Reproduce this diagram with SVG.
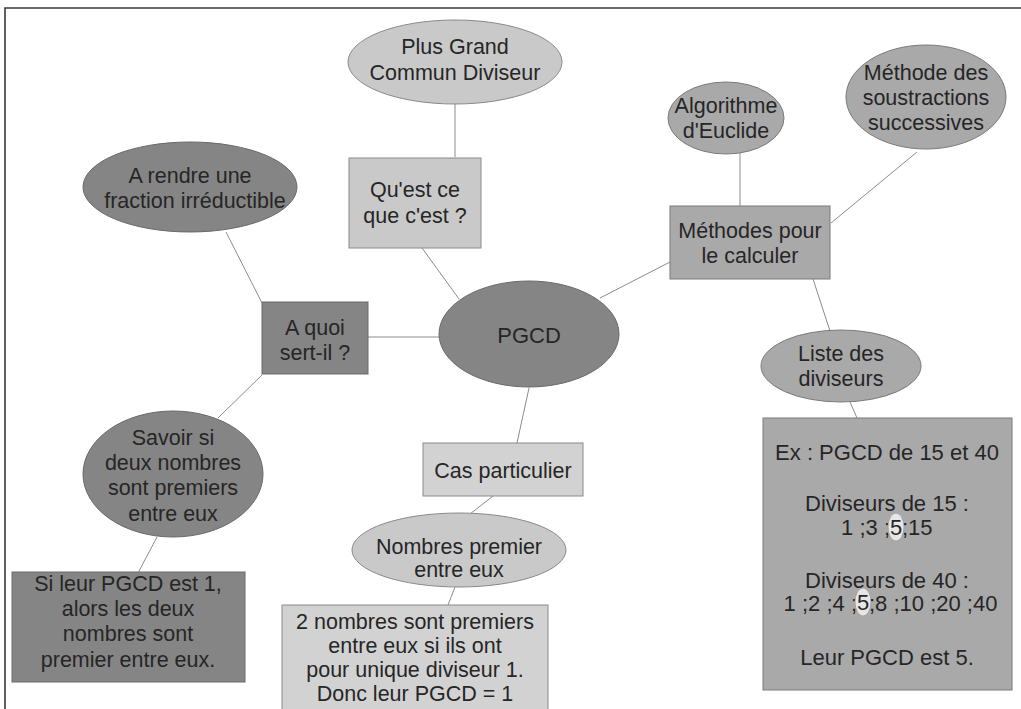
<svg xmlns="http://www.w3.org/2000/svg" width="1021" height="709" viewBox="0 0 1021 709">
  <style>
    text { font-family: "Liberation Sans", Arial, sans-serif; font-size: 21.5px; fill: #262626; text-anchor: middle; }
    .big text { font-size: 22px; }
    .big text.l { text-anchor: end; }
    .big text.r { text-anchor: start; }
    .dark { fill: #858585; stroke: #6a6a6a; stroke-width: 1; }
    .mid { fill: #a9a9a9; stroke: #7a7a7a; stroke-width: 1; }
    .light { fill: #c9c9c9; stroke: #8a8a8a; stroke-width: 1; }
    .pale { fill: #d2d2d2; stroke: #8a8a8a; stroke-width: 1; }
    .mark { fill: #e6e6e6; stroke: #9a9a9a; stroke-width: 0.8; }
    #connectors line { stroke: #8c8c8c; stroke-width: 1; }
    .frame { stroke: #3a3a3a; stroke-width: 1.6; fill: none; }
  </style>

  <rect width="1021" height="709" fill="#ffffff"/>
  <!-- page frame: top and left edges -->
  <path class="frame" d="M5,709 V8 H1021"/>

  <g id="connectors">
    <line x1="455" y1="104" x2="455" y2="157"/>
    <line x1="422" y1="248" x2="459" y2="299"/>
    <line x1="226" y1="232" x2="262" y2="303"/>
    <line x1="368" y1="337" x2="440" y2="337"/>
    <line x1="262" y1="375" x2="218" y2="418"/>
    <line x1="157" y1="537" x2="138" y2="573"/>
    <line x1="529" y1="388" x2="517" y2="443"/>
    <line x1="493" y1="496" x2="470" y2="514"/>
    <line x1="455" y1="587" x2="448" y2="605"/>
    <line x1="600" y1="298" x2="670" y2="262"/>
    <line x1="740" y1="153" x2="740" y2="206"/>
    <line x1="917" y1="152" x2="831" y2="223"/>
    <line x1="813" y1="279" x2="830" y2="331"/>
    <line x1="850" y1="402" x2="857" y2="418"/>
  </g>

  <g id="pgcd">
    <ellipse class="dark" cx="529" cy="334" rx="90" ry="53"/>
    <text x="529" y="343" style="font-size:22px">PGCD</text>
  </g>

  <g id="plus-grand">
    <ellipse class="light" cx="455" cy="62" rx="107" ry="42"/>
    <text x="455" y="54">Plus Grand</text>
    <text x="455" y="80">Commun Diviseur</text>
  </g>

  <g id="quest-ce">
    <rect class="light" x="349" y="158" width="132" height="90"/>
    <text x="415" y="197">Qu'est ce</text>
    <text x="415" y="223">que c'est ?</text>
  </g>

  <g id="a-rendre">
    <ellipse class="dark" cx="190" cy="187" rx="107" ry="45"/>
    <text x="190" y="183">A rendre une</text>
    <text x="195" y="208">fraction irréductible</text>
  </g>

  <g id="a-quoi">
    <rect class="dark" x="262" y="302" width="106" height="72"/>
    <text x="315" y="335">A quoi</text>
    <text x="315" y="360">sert-il ?</text>
  </g>

  <g id="savoir">
    <ellipse class="dark" cx="173" cy="474" rx="90" ry="63"/>
    <text x="173" y="445">Savoir si</text>
    <text x="173" y="470">deux nombres</text>
    <text x="173" y="495">sont premiers</text>
    <text x="173" y="521">entre eux</text>
  </g>

  <g id="si-leur">
    <rect class="dark" x="12" y="572" width="233" height="110"/>
    <text x="128" y="591">Si leur PGCD est 1,</text>
    <text x="128" y="616">alors les deux</text>
    <text x="128" y="641">nombres sont</text>
    <text x="128" y="667">premier entre eux.</text>
  </g>

  <g id="cas-particulier">
    <rect class="pale" x="423" y="443" width="160" height="53"/>
    <text x="503" y="478">Cas particulier</text>
  </g>

  <g id="nombres-premier">
    <ellipse class="light" cx="459" cy="550" rx="107" ry="37"/>
    <text x="459" y="554">Nombres premier</text>
    <text x="459" y="577">entre eux</text>
  </g>

  <g id="deux-nombres">
    <rect class="pale" x="282" y="605" width="266" height="110"/>
    <text x="415" y="629">2 nombres sont premiers</text>
    <text x="415" y="653">entre eux si ils ont</text>
    <text x="415" y="677">pour unique diviseur 1.</text>
    <text x="415" y="701">Donc leur PGCD = 1</text>
  </g>

  <g id="methodes">
    <rect class="mid" x="670" y="206" width="160" height="73"/>
    <text x="750" y="238">Méthodes pour</text>
    <text x="750" y="263">le calculer</text>
  </g>

  <g id="euclide">
    <ellipse class="mid" cx="726" cy="118" rx="58" ry="36"/>
    <text x="726" y="113">Algorithme</text>
    <text x="726" y="138">d'Euclide</text>
  </g>

  <g id="soustractions">
    <ellipse class="mid" cx="926" cy="97" rx="80" ry="52"/>
    <text x="926" y="80">Méthode des</text>
    <text x="926" y="105">soustractions</text>
    <text x="926" y="130">successives</text>
  </g>

  <g id="liste">
    <ellipse class="mid" cx="841" cy="366" rx="80" ry="36"/>
    <text x="841" y="361">Liste des</text>
    <text x="841" y="386">diviseurs</text>
  </g>

  <g id="exemple" class="big">
    <rect class="mid" x="763" y="418" width="249" height="272"/>
    <text x="887" y="460">Ex : PGCD de 15 et 40</text>
    <text x="887" y="511">Diviseurs de 15 :</text>
    <!-- divisor lines, split around the circled common divisor -->
    <text class="l" x="890" y="535">1 ;3 ;</text>
    <ellipse class="mark" cx="896" cy="527" rx="8" ry="14"/>
    <text x="896" y="535">5</text>
    <text class="r" x="902" y="535">;15</text>
    <text x="887" y="588">Diviseurs de 40 :</text>
    <text class="l" x="857" y="611">1 ;2 ;4 ;</text>
    <ellipse class="mark" cx="863" cy="602" rx="8" ry="14"/>
    <text x="863" y="610">5</text>
    <text class="r" x="869" y="611">;8 ;10 ;20 ;40</text>
    <text x="887" y="665">Leur PGCD est 5.</text>
  </g>
</svg>
